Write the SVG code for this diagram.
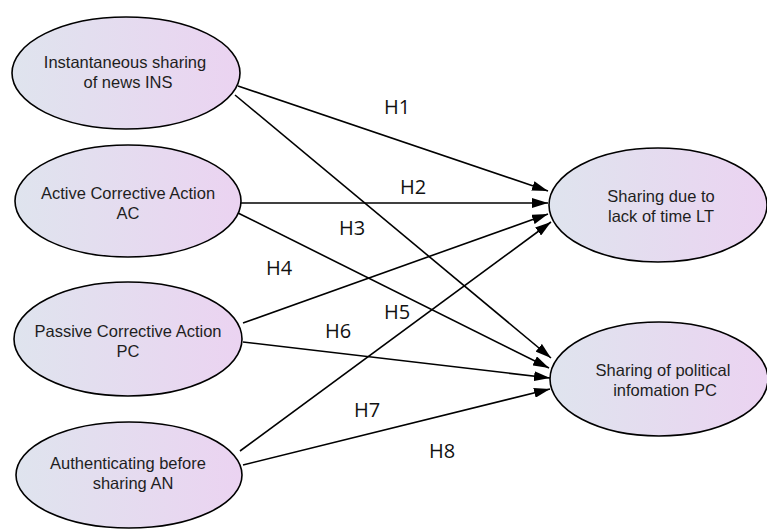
<svg xmlns="http://www.w3.org/2000/svg" width="767" height="530" viewBox="0 0 767 530">
<defs>
<linearGradient id="g" x1="0" y1="0" x2="1" y2="0">
<stop offset="0" stop-color="#dfe4ee"/>
<stop offset="1" stop-color="#ebd3f1"/>
</linearGradient>
<marker id="arr" viewBox="0 0 16 10" refX="16" refY="5" markerWidth="16" markerHeight="10" markerUnits="userSpaceOnUse" orient="auto">
<path d="M0,0 L16,5 L0,10 z" fill="#000"/>
</marker>
<style>
.n{fill:url(#g);stroke:#000;stroke-width:1.6}
.t{font-family:"Liberation Sans",Arial,sans-serif;font-size:16.5px;fill:#1e1e1e;text-anchor:middle}
.e{stroke:#000;stroke-width:1.6;fill:none;marker-end:url(#arr)}
.l{font-family:"Open Sans","Liberation Sans",sans-serif;font-size:20px;fill:#111;text-anchor:middle}
</style>
</defs>
<rect width="767" height="530" fill="#fff"/>
<g id="connectors">
<line class="e" x1="238" y1="86" x2="548" y2="191"/>
<line class="e" x1="235" y1="95" x2="551" y2="358"/>
<line class="e" x1="241" y1="203" x2="548" y2="203"/>
<line class="e" x1="238" y1="213" x2="549" y2="368"/>
<line class="e" x1="243" y1="323" x2="548" y2="214"/>
<line class="e" x1="243" y1="342" x2="550" y2="378"/>
<line class="e" x1="240" y1="451" x2="551" y2="222"/>
<line class="e" x1="243" y1="465" x2="550" y2="389"/>
<text class="l" x="397" y="114">H1</text>
<text class="l" x="413" y="194">H2</text>
<text class="l" x="352" y="235">H3</text>
<text class="l" x="279" y="275">H4</text>
<text class="l" x="397" y="319">H5</text>
<text class="l" x="338" y="338">H6</text>
<text class="l" x="367" y="417">H7</text>
<text class="l" x="442" y="458">H8</text>
</g>
<g id="INS">
<ellipse class="n" cx="126" cy="73" rx="114" ry="56"/>
<text class="t" x="125" y="68">Instantaneous sharing</text>
<text class="t" x="128" y="88">of news INS</text>
</g>
<g id="AC">
<ellipse class="n" cx="128" cy="201" rx="113" ry="56"/>
<text class="t" x="128" y="199">Active Corrective Action</text>
<text class="t" x="128" y="219">AC</text>
</g>
<g id="PC">
<ellipse class="n" cx="128" cy="339" rx="114" ry="57"/>
<text class="t" x="128" y="337">Passive Corrective Action</text>
<text class="t" x="128" y="357">PC</text>
</g>
<g id="AN">
<ellipse class="n" cx="129" cy="475" rx="113" ry="53"/>
<text class="t" x="128" y="469">Authenticating before</text>
<text class="t" x="133" y="489">sharing AN</text>
</g>
<g id="LT">
<ellipse class="n" cx="658" cy="205" rx="109" ry="57"/>
<text class="t" x="661" y="202">Sharing due to</text>
<text class="t" x="661" y="222">lack of time LT</text>
</g>
<g id="POL">
<ellipse class="n" cx="659" cy="379" rx="109" ry="57"/>
<text class="t" x="663" y="376">Sharing of political</text>
<text class="t" x="665" y="396">infomation PC</text>
</g>
</svg>
